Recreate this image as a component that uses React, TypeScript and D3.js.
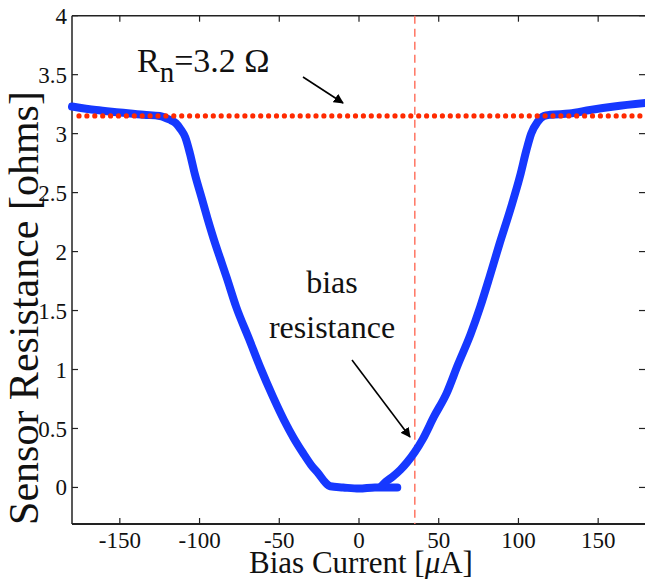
import React from "react";
import * as d3 from "d3";

const sweepDownX = [-180, -165, -150, -135, -125, -119, -115, -112, -109, -106, -103, -99, -95, -90, -87, -83, -77, -69, -62, -54, -47, -41, -35, -30, -25, -21, -18, -10, 0, 10, 24];
const sweepDownY = [3.23, 3.2, 3.18, 3.16, 3.15, 3.12, 3.09, 3.04, 2.97, 2.83, 2.66, 2.47, 2.28, 2.06, 1.94, 1.78, 1.53, 1.26, 1.02, 0.77, 0.57, 0.42, 0.29, 0.19, 0.11, 0.04, 0.01, 0, -0.01, 0, 0];
const sweepUpX = [14, 17, 21, 26, 30, 35, 40, 47, 55, 62, 70, 76, 82, 88, 95, 101, 105, 108, 112, 116, 120, 132, 145, 160, 180];
const sweepUpY = [0.01, 0.05, 0.09, 0.15, 0.21, 0.3, 0.41, 0.6, 0.8, 1.04, 1.3, 1.53, 1.79, 2.06, 2.36, 2.64, 2.86, 3.0, 3.1, 3.15, 3.16, 3.17, 3.2, 3.23, 3.26];

const xTicks = [-150, -100, -50, 0, 50, 100, 150];
const yTicks = [0, 0.5, 1, 1.5, 2, 2.5, 3, 3.5, 4];
const normalResistance = 3.15;
const biasCurrent = 35;

const W = 645;
const H = 579;
const FONT = "'Liberation Serif', 'Times New Roman', serif";

export default function App() {
  const x = d3.scaleLinear().domain([-180, 180]).range([72, 646]);
  const y = d3.scaleLinear().domain([-0.31, 4]).range([524, 15.7]);
  const line = d3
    .line<[number, number]>()
    .x((d) => x(d[0]))
    .y((d) => y(d[1]))
    .curve(d3.curveMonotoneX);
  const down = sweepDownX.map((v, i) => [v, sweepDownY[i]] as [number, number]);
  const up = sweepUpX.map((v, i) => [v, sweepUpY[i]] as [number, number]);
  const [x0, x1] = x.range();
  const [yb, yt] = y.range();
  const axisColor = "#222";
  const blue = "#1638ff";

  return (
    <svg
      width={W}
      height={H}
      style={{ position: "absolute", left: 0, top: 0, background: "#fff" }}
      fontFamily={FONT}
    >
      <defs>
        <marker id="ah" viewBox="0 0 10 10" refX="9" refY="5" markerWidth="10" markerHeight="10" markerUnits="userSpaceOnUse" orient="auto">
          <path d="M0,0 L10,5 L0,10 z" fill="#000" />
        </marker>
      </defs>
      {/* frame */}
      <line x1={x0} x2={x1} y1={yb} y2={yb} stroke={axisColor} strokeWidth={2} />
      <line x1={x0} x2={x1} y1={yt} y2={yt} stroke={axisColor} strokeWidth={1.5} />
      <line x1={x0} x2={x0} y1={yt} y2={yb} stroke={axisColor} strokeWidth={1.5} />
      <line x1={x1} x2={x1} y1={yt} y2={yb} stroke={axisColor} strokeWidth={1.5} />
      {xTicks.map((t) => (
        <g key={"x" + t}>
          <line x1={x(t)} x2={x(t)} y1={yb} y2={yb - 6} stroke={axisColor} strokeWidth={1.2} />
          <line x1={x(t)} x2={x(t)} y1={yt} y2={yt + 6} stroke={axisColor} strokeWidth={1.2} />
          <text x={x(t)} y={548} textAnchor="middle" fontSize={23} fill="#111">
            {t}
          </text>
        </g>
      ))}
      {yTicks.map((t) => (
        <g key={"y" + t}>
          <line x1={x0} x2={x0 + 6} y1={y(t)} y2={y(t)} stroke={axisColor} strokeWidth={1.2} />
          <line x1={x1 - 7} x2={x1} y1={y(t)} y2={y(t)} stroke={axisColor} strokeWidth={1.2} />
          <text x={67} y={y(t)} dy="0.35em" textAnchor="end" fontSize={23} fill="#111">
            {t}
          </text>
        </g>
      ))}
      {/* bias dashed line */}
      <line x1={x(biasCurrent)} x2={x(biasCurrent)} y1={yt} y2={yb} stroke="#ff7563" strokeWidth={1.5} strokeDasharray="8,5" />
      {/* curve */}
      <path d={line(down) || ""} fill="none" stroke={blue} strokeWidth={8} strokeLinecap="round" strokeLinejoin="round" />
      <path d={line(up) || ""} fill="none" stroke={blue} strokeWidth={8} strokeLinecap="round" strokeLinejoin="round" />
      {/* normal resistance dotted */}
      <line
        x1={x0}
        x2={x1}
        y1={y(normalResistance)}
        y2={y(normalResistance)}
        stroke="#ff2a00"
        strokeWidth={5.2}
        strokeLinecap="round"
        strokeDasharray="0 7.9"
        strokeDashoffset={-7}
      />
      {/* annotations */}
      <text x={137} y={72} fontSize={34} fill="#111">
        R<tspan dy={10} fontSize={29}>n</tspan>
        <tspan dy={-10}>=3.2 Ω</tspan>
      </text>
      <line x1={303} y1={77} x2={343} y2={103} stroke="#000" strokeWidth={1.6} markerEnd="url(#ah)" />
      <text x={332} y={293} fontSize={32} textAnchor="middle" fill="#111">bias</text>
      <text x={332} y={338} fontSize={32} textAnchor="middle" fill="#111">resistance</text>
      <line x1={352} y1={360} x2={410} y2={437} stroke="#000" strokeWidth={1.6} markerEnd="url(#ah)" />
      {/* axis titles */}
      <text x={361} y={573} fontSize={31} textAnchor="middle" fill="#111">
        Bias Current [<tspan fontStyle="italic">μ</tspan>A]
      </text>
      <text transform={`translate(38,308) rotate(-90)`} fontSize={42} textAnchor="middle" fill="#111">
        Sensor Resistance [ohms]
      </text>
    </svg>
  );
}
